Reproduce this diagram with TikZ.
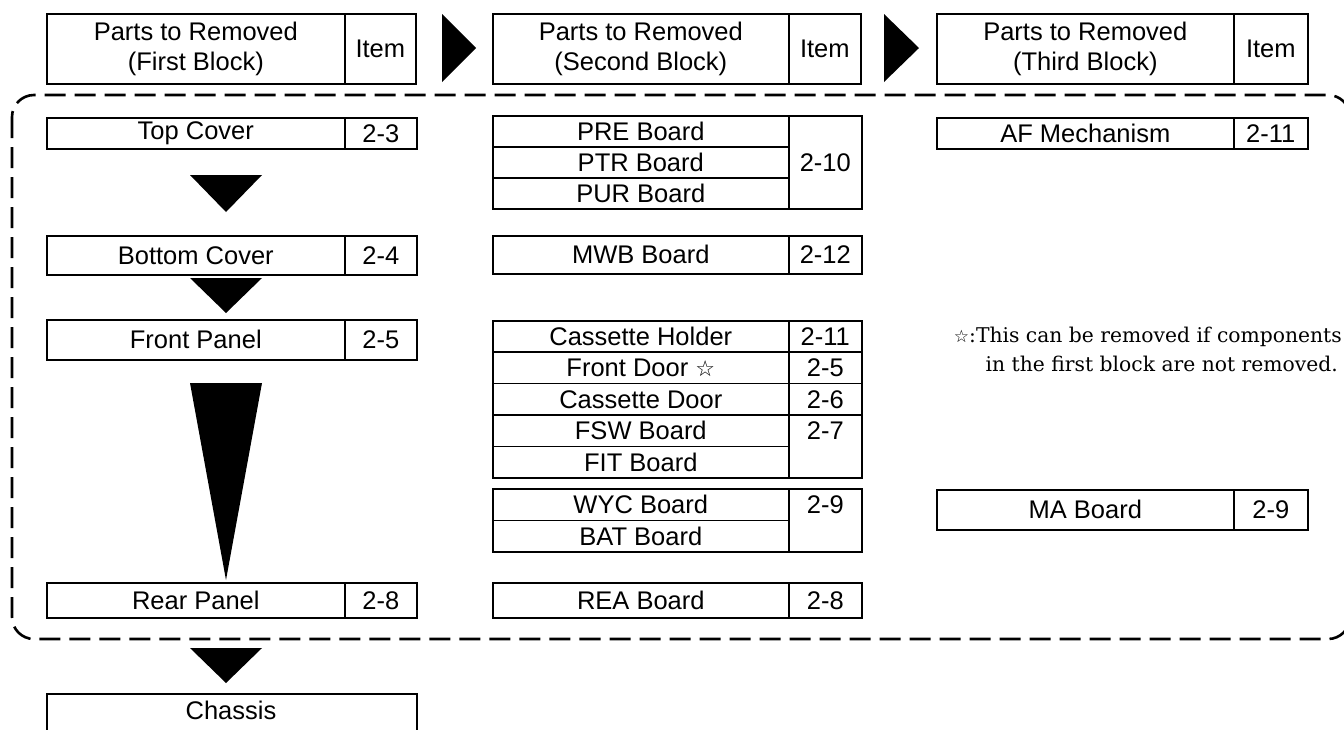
\documentclass[tikz,border=0pt]{standalone}
\usepackage{fontspec}
\newfontfamily\cellfam{Liberation Sans}
\newfontfamily\notefam{DejaVu Serif}
\newfontfamily\symfam{DejaVu Sans}
\newcommand\cellfnt{\cellfam\fontsize{25.5}{30}\selectfont}
\newcommand\notefnt{\notefam\fontsize{20.3}{25}\selectfont}
\begin{document}
\begin{tikzpicture}[x=1pt,y=-1pt,
  cell/.style={draw, line width=1.6pt, anchor=north west, inner sep=0pt, font=\cellfnt, align=center},
  lbl/.style={inner sep=0pt, font=\cellfnt, anchor=center},
  tri/.style={fill=black, draw=none},
  frame/.style={line width=2.6pt, dash pattern=on 21pt off 9pt, rounded corners=22pt}]
\useasboundingbox (0,0) rectangle (1344,729);
% headers
\node[cell, minimum width=298pt, minimum height=70pt] (h1) at (46,13) {Parts to Removed\\(First Block)};
\node[cell, minimum width=71pt, minimum height=70pt] (h1i) at (344,13) {Item};
\node[cell, minimum width=296pt, minimum height=70pt] (h2) at (492,13) {Parts to Removed\\(Second Block)};
\node[cell, minimum width=72pt, minimum height=70pt] (h2i) at (788,13) {Item};
\node[cell, minimum width=297pt, minimum height=70pt] (h3) at (936,13) {Parts to Removed\\(Third Block)};
\node[cell, minimum width=74pt, minimum height=70pt] (h3i) at (1233,13) {Item};
\fill[tri] (442,14) -- (442,82) -- (476,48) -- cycle;
\fill[tri] (884,14) -- (884,82) -- (919,48) -- cycle;
% dashed frame
\draw[frame] (12,95) rectangle (1350,639);
% first column
\node[cell, minimum width=298pt, minimum height=31pt] (top) at (46,117) {Top Cover};
\node[cell, minimum width=72pt, minimum height=31pt] (topi) at (344,117) {2-3};
\node[cell, minimum width=298pt, minimum height=39pt] (bot) at (46,235) {Bottom Cover};
\node[cell, minimum width=72pt, minimum height=39pt] (boti) at (344,235) {2-4};
\node[cell, minimum width=298pt, minimum height=40pt] (fp) at (46,319) {Front Panel};
\node[cell, minimum width=72pt, minimum height=40pt] (fpi) at (344,319) {2-5};
\node[cell, minimum width=298pt, minimum height=35pt] (rp) at (46,582) {Rear Panel};
\node[cell, minimum width=72pt, minimum height=35pt] (rpi) at (344,582) {2-8};
\node[cell, minimum width=370pt, minimum height=50pt, text depth=0pt] (ch) at (46,693) {};
\node[lbl] at (231,710) {Chassis};
\fill[tri] (190,175) -- (262,175) -- (226,212) -- cycle;
\fill[tri] (190,278) -- (262,278) -- (226,313) -- cycle;
\fill[tri] (190,383) -- (262,383) -- (226,580) -- cycle;
\fill[tri] (190,648) -- (262,648) -- (226,683) -- cycle;
% second column
\node[cell, minimum width=296pt, minimum height=31pt] (pre) at (492,115) {PRE Board};
\node[cell, minimum width=296pt, minimum height=31pt] (ptr) at (492,146) {PTR Board};
\node[cell, minimum width=296pt, minimum height=31pt] (pur) at (492,177) {PUR Board};
\node[cell, minimum width=73pt, minimum height=93pt] (prei) at (788,115) {};
\node[lbl] at (prei.center |- ptr.center) {2-10};
\node[cell, minimum width=296pt, minimum height=38pt] (mwb) at (492,235) {MWB Board};
\node[cell, minimum width=73pt, minimum height=38pt] (mwbi) at (788,235) {2-12};
\node[cell, minimum width=296pt, minimum height=31.4pt] (ch1) at (492,320) {Cassette Holder};
\node[cell, minimum width=73pt, minimum height=31.4pt] (ch1i) at (788,320) {2-11};
\node[cell, minimum width=296pt, minimum height=31.4pt] (fd) at (492,351.4) {Front Door {\symfam\fontsize{22}{26}\selectfont ☆}};
\node[cell, minimum width=73pt, minimum height=31.4pt] (fdi) at (788,351.4) {2-5};
\node[cell, minimum width=296pt, minimum height=31.4pt] (cd) at (492,382.8) {Cassette Door};
\node[cell, minimum width=73pt, minimum height=31.4pt] (cdi) at (788,382.8) {2-6};
\node[cell, minimum width=296pt, minimum height=31.4pt] (fsw) at (492,414.2) {FSW Board};
\node[cell, minimum width=296pt, minimum height=31.4pt] (fit) at (492,445.6) {FIT Board};
\node[cell, minimum width=73pt, minimum height=62.8pt] (fswi) at (788,414.2) {};
\node[lbl] at (fswi.center |- fsw.center) {2-7};
\node[cell, minimum width=296pt, minimum height=31.5pt] (wyc) at (492,488) {WYC Board};
\node[cell, minimum width=296pt, minimum height=31.5pt] (bat) at (492,519.5) {BAT Board};
\node[cell, minimum width=73pt, minimum height=63pt] (wyci) at (788,488) {};
\node[lbl] at (wyci.center |- wyc.center) {2-9};
\node[cell, minimum width=296pt, minimum height=35pt] (rea) at (492,582) {REA Board};
\node[cell, minimum width=73pt, minimum height=35pt] (reai) at (788,582) {2-8};
% third column
\node[cell, minimum width=297pt, minimum height=31pt] (af) at (936,117) {AF Mechanism};
\node[cell, minimum width=74pt, minimum height=31pt] (afi) at (1233,117) {2-11};
\node[cell, minimum width=297pt, minimum height=40pt] (ma) at (936,489) {MA Board};
\node[cell, minimum width=74pt, minimum height=40pt] (mai) at (1233,489) {2-9};
% note
\node[anchor=base east, inner sep=0pt, font=\notefnt] (n1) at (1342,342) {{\symfam\fontsize{17}{20}\selectfont ☆}:This can be removed if components};
\node[anchor=base east, inner sep=0pt, font=\notefnt] (n2) at (1338,371) {in the first block are not removed.};
\end{tikzpicture}
\end{document}
